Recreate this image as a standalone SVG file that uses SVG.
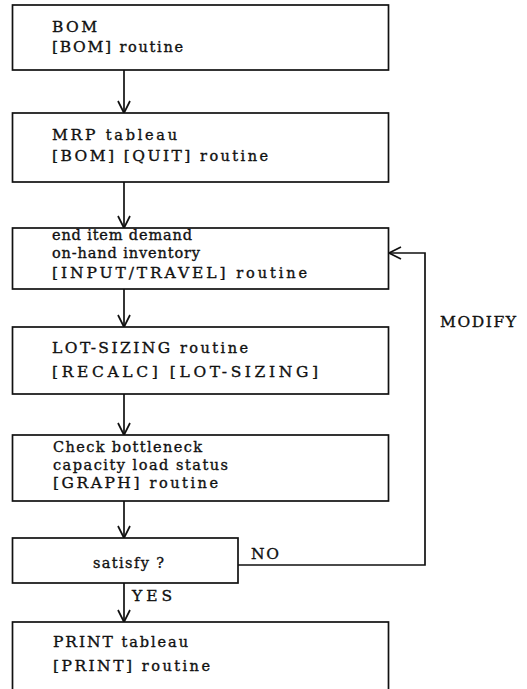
<svg xmlns="http://www.w3.org/2000/svg" width="527" height="689" viewBox="0 0 527 689">
<style>
.box{fill:#fff;stroke:#111;stroke-width:1.7}
.ln{fill:none;stroke:#111;stroke-width:1.7}
.ah{fill:none;stroke:#111;stroke-width:1.7;stroke-linejoin:miter}
text{font-family:"DejaVu Serif","Liberation Serif",serif;fill:#111;stroke:#111;stroke-width:0.35;font-size:15.5px}
.lc{font-size:14.5px}
</style>
<rect width="527" height="689" fill="#fff"/>
<g id="connectors">
<line class="ln" x1="124" y1="70" x2="124" y2="113"/>
<polyline class="ah" points="118,101 124,113 130,101"/>
<line class="ln" x1="124" y1="182" x2="124" y2="228"/>
<polyline class="ah" points="118,216 124,228 130,216"/>
<line class="ln" x1="124" y1="289" x2="124" y2="327"/>
<polyline class="ah" points="118,315 124,327 130,315"/>
<line class="ln" x1="124" y1="394" x2="124" y2="435"/>
<polyline class="ah" points="118,423 124,435 130,423"/>
<line class="ln" x1="124" y1="501" x2="124" y2="538"/>
<polyline class="ah" points="118,526 124,538 130,526"/>
<line class="ln" x1="124" y1="583" x2="124" y2="622"/>
<polyline class="ah" points="118,610 124,622 130,610"/>
<polyline class="ln" points="238,565 425,565 425,253 389,253"/>
<polyline class="ah" points="401,247 389,253 401,259"/>
<text x="251" y="559" textLength="28" lengthAdjust="spacing">NO</text>
<text x="132" y="601" textLength="40" lengthAdjust="spacing">YES</text>
<text x="440" y="327" textLength="76" lengthAdjust="spacing">MODIFY</text>
</g>
<g id="n1">
<rect class="box" x="12.5" y="5" width="376" height="65"/>
<text x="52" y="32" textLength="45" lengthAdjust="spacing">BOM</text>
<text x="52" y="52" textLength="131" lengthAdjust="spacing">[BOM] <tspan class="lc">routine</tspan></text>
</g>
<g id="n2">
<rect class="box" x="12.5" y="113" width="376" height="69"/>
<text x="52" y="140" textLength="125" lengthAdjust="spacing">MRP <tspan class="lc">tableau</tspan></text>
<text x="52" y="161" textLength="216" lengthAdjust="spacing">[BOM] [QUIT] <tspan class="lc">routine</tspan></text>
</g>
<g id="n3">
<rect class="box" x="12.5" y="228" width="376" height="61"/>
<text class="lc" x="52" y="240" textLength="140" lengthAdjust="spacing">end item demand</text>
<text class="lc" x="52" y="258" textLength="148" lengthAdjust="spacing">on-hand inventory</text>
<text x="52" y="278" textLength="255" lengthAdjust="spacing">[INPUT/TRAVEL] <tspan class="lc">routine</tspan></text>
</g>
<g id="n4">
<rect class="box" x="12.5" y="327" width="376" height="67"/>
<text x="52" y="353" textLength="196" lengthAdjust="spacing">LOT-SIZING <tspan class="lc">routine</tspan></text>
<text x="52" y="377" textLength="266" lengthAdjust="spacing">[RECALC] [LOT-SIZING]</text>
</g>
<g id="n5">
<rect class="box" x="12.5" y="435" width="376" height="66"/>
<text class="lc" x="53" y="452" textLength="149" lengthAdjust="spacing">Check bottleneck</text>
<text class="lc" x="53" y="470" textLength="175" lengthAdjust="spacing">capacity load status</text>
<text x="53" y="488" textLength="165" lengthAdjust="spacing">[GRAPH] <tspan class="lc">routine</tspan></text>
</g>
<g id="n6">
<rect class="box" x="12.5" y="538" width="225.5" height="45"/>
<text class="lc" x="93" y="568" textLength="71" lengthAdjust="spacing">satisfy ?</text>
</g>
<g id="n7">
<rect class="box" x="12.5" y="622" width="376" height="80"/>
<text x="53" y="647" textLength="135" lengthAdjust="spacing">PRINT <tspan class="lc">tableau</tspan></text>
<text x="53" y="671" textLength="157" lengthAdjust="spacing">[PRINT] <tspan class="lc">routine</tspan></text>
</g>
</svg>
